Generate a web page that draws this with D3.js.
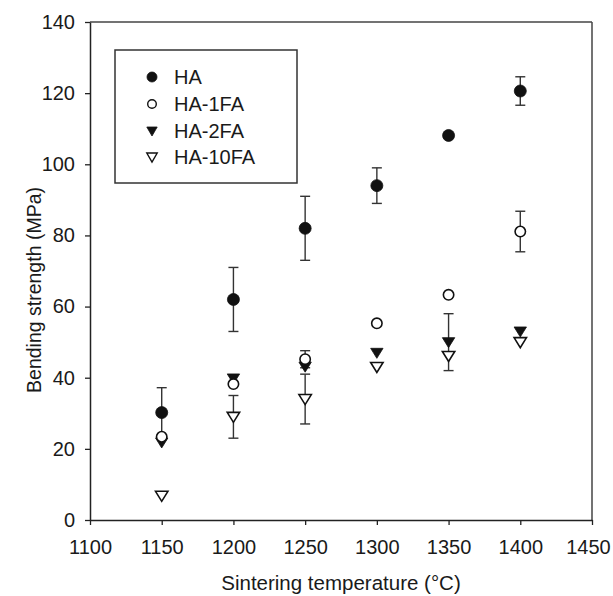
<!DOCTYPE html>
<html>
<head>
<meta charset="utf-8">
<script src="https://cdn.jsdelivr.net/npm/d3@7"></script>
<style>
  html, body { margin: 0; padding: 0; background: #fff; }
  svg { display: block; }
  text { font-family: "Liberation Sans", Arial, sans-serif; fill: #1a1a1a; }
</style>
</head>
<body>
<svg id="chart" width="613" height="596"></svg>
<script>
// ---- data ----
const temps = [1150, 1200, 1250, 1300, 1350, 1400];
const seriesNames = ["HA", "HA-1FA", "HA-2FA", "HA-10FA"];
const HA      = [30.2, 62.0, 82.0, 94.0, 108.1, 120.6];
const HA_err  = [7, 9, 9, 5, 0, 4];
const HA1     = [23.4, 38.2, 45.2, 55.3, 63.3, 81.1];
const HA1_err = [0, 0, 2.4, 0, 0, 5.7];
const HA2     = [21.8, 39.8, 43.1, 47.0, 50.0, 53.0];
const HA2_err = [0, 0, 0, 0, 8, 0];
const HA10    = [6.8, 29.0, 34.0, 43.0, 46.1, 50.0];
const HA10_err= [0, 6, 7, 0, 0, 0];
const xTicks = [1100, 1150, 1200, 1250, 1300, 1350, 1400, 1450];
const yTicks = [0, 20, 40, 60, 80, 100, 120, 140];

// ---- layout ----
const L = 90, R = 592, T = 22, B = 520;
const svg = d3.select("#chart");
const x = d3.scaleLinear().domain([1100, 1450]).range([L, R]);
const y = d3.scaleLinear().domain([0, 140]).range([B, T]);
const ink = "#222";

// frame top/right
svg.append("line").attr("x1", L).attr("x2", R).attr("y1", T).attr("y2", T)
  .attr("stroke", "#444").attr("stroke-width", 1.5);
svg.append("line").attr("x1", R).attr("x2", R).attr("y1", T).attr("y2", B)
  .attr("stroke", "#444").attr("stroke-width", 1.5);

// axes
const gx = svg.append("g").attr("transform", `translate(0,${B})`)
  .call(d3.axisBottom(x).tickValues(xTicks).tickFormat(d3.format("d")).tickSize(5).tickSizeOuter(0).tickPadding(15));
const gy = svg.append("g").attr("transform", `translate(${L},0)`)
  .call(d3.axisLeft(y).tickValues(yTicks).tickSize(5).tickSizeOuter(0).tickPadding(10));
[gx, gy].forEach(g => {
  g.select(".domain").attr("stroke", ink).attr("stroke-width", 1.5);
  g.selectAll(".tick line").attr("stroke", ink).attr("stroke-width", 1.3);
  g.selectAll(".tick text").attr("font-size", 20).attr("fill", "#1a1a1a")
    .attr("font-family", "'Liberation Sans', Arial, sans-serif");
});
// keep the last x label inside the canvas, as in the reference
gx.selectAll(".tick text").filter(d => d === 1450).attr("dx", -4);

// axis titles
svg.append("text").attr("x", (L + R) / 2).attr("y", 590)
  .attr("text-anchor", "middle").attr("font-size", 20.5)
  .text("Sintering temperature (°C)");
svg.append("text").attr("transform", "translate(41,290) rotate(-90)")
  .attr("text-anchor", "middle").attr("font-size", 19.5)
  .text("Bending strength (MPa)");

// series definitions
const series = [
  { name: "HA-2FA", vals: HA2, err: HA2_err, shape: "tri", filled: true },
  { name: "HA", vals: HA, err: HA_err, shape: "circle", filled: true },
  { name: "HA-10FA", vals: HA10, err: HA10_err, shape: "tri", filled: false },
  { name: "HA-1FA", vals: HA1, err: HA1_err, shape: "circle", filled: false },
];

// error bars
const capW = 5;
const eg = svg.append("g").attr("stroke", "#333").attr("stroke-width", 1.4);
series.forEach(s => {
  temps.forEach((t, i) => {
    const e = s.err[i];
    if (!e) return;
    const cx = x(t), y1 = y(s.vals[i] + e), y0 = y(s.vals[i] - e);
    eg.append("line").attr("x1", cx).attr("x2", cx).attr("y1", y1).attr("y2", y0);
    eg.append("line").attr("x1", cx - capW).attr("x2", cx + capW).attr("y1", y1).attr("y2", y1);
    eg.append("line").attr("x1", cx - capW).attr("x2", cx + capW).attr("y1", y0).attr("y2", y0);
  });
});

function marker(g, shape, filled, cx, cy) {
  if (shape === "circle") {
    g.append("circle").attr("cx", cx).attr("cy", cy).attr("r", filled ? 6 : 5.2)
      .attr("fill", filled ? "#111" : "#fff").attr("stroke", "#111").attr("stroke-width", filled ? 0.8 : 1.6);
  } else {
    const w = 6.2, hTop = 4.5, hBot = 5.5;
    const pts = [[cx - w, cy - hTop], [cx + w, cy - hTop], [cx, cy + hBot]];
    g.append("path").attr("d", "M" + pts.map(p => p.join(",")).join("L") + "Z")
      .attr("fill", filled ? "#111" : "#fff").attr("stroke", "#111")
      .attr("stroke-width", filled ? 0.8 : 1.6).attr("stroke-linejoin", "miter");
  }
}

const mg = svg.append("g");
series.forEach(s => {
  temps.forEach((t, i) => marker(mg, s.shape, s.filled, x(t), y(s.vals[i])));
});

// legend
const lg = svg.append("g");
lg.append("rect").attr("x", 115).attr("y", 50).attr("width", 182).attr("height", 133)
  .attr("fill", "#fff").attr("stroke", "#333").attr("stroke-width", 1.5);
const legendItems = [
  { name: seriesNames[0], shape: "circle", filled: true },
  { name: seriesNames[1], shape: "circle", filled: false },
  { name: seriesNames[2], shape: "tri", filled: true },
  { name: seriesNames[3], shape: "tri", filled: false },
];
const rowY = [77, 104, 131, 157];
legendItems.forEach((it, i) => {
  const g = lg.append("g");
  if (it.shape === "circle") {
    g.append("circle").attr("cx", 152).attr("cy", rowY[i]).attr("r", it.filled ? 5 : 4.3)
      .attr("fill", it.filled ? "#111" : "#fff").attr("stroke", "#111").attr("stroke-width", it.filled ? 0.8 : 1.4);
  } else {
    const cx = 152, cy = rowY[i], w = 5.2;
    g.append("path").attr("d", `M${cx - w},${cy - 4}L${cx + w},${cy - 4}L${cx},${cy + 5}Z`)
      .attr("fill", it.filled ? "#111" : "#fff").attr("stroke", "#111").attr("stroke-width", it.filled ? 0.8 : 1.4);
  }
  g.append("text").attr("x", 174).attr("y", rowY[i] + 7).attr("font-size", 20).text(it.name);
});
</script>
</body>
</html>
